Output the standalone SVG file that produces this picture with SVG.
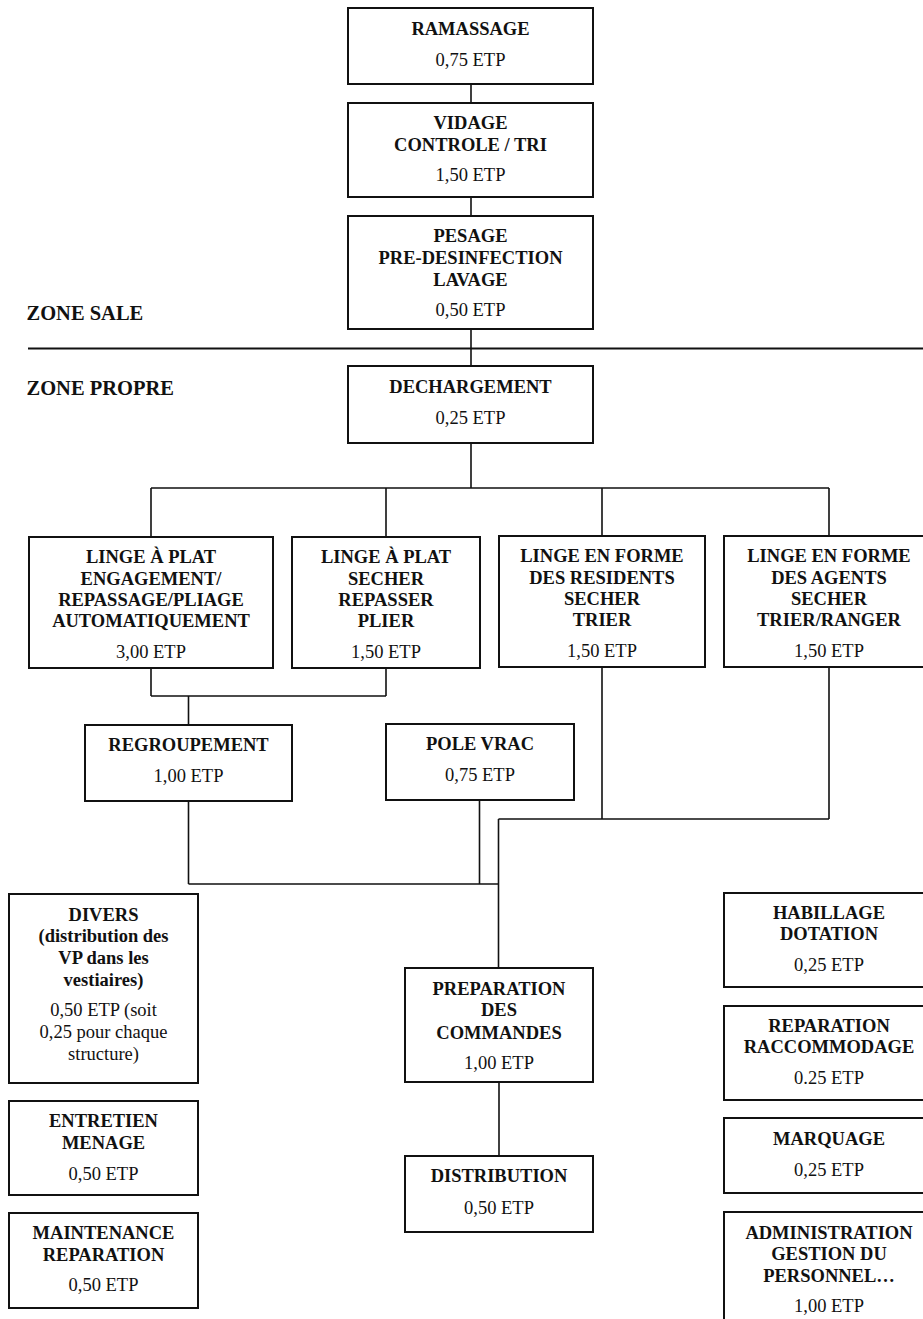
<svg xmlns="http://www.w3.org/2000/svg" width="923" height="1319" viewBox="0 0 923 1319">
<style>
.box{fill:#fff;stroke:#111;stroke-width:2}
.c{fill:none;stroke:#111;stroke-width:1.6}
text{font-family:"Liberation Serif","Times New Roman",serif;font-size:18.5px;fill:#111;text-anchor:middle}
.b{font-weight:bold}
.z{font-weight:bold;font-size:20.5px;text-anchor:start}
</style>
<rect width="923" height="1319" fill="#fff"/>
<g id="zones">
<text class="z" x="26.5" y="320">ZONE SALE</text>
<text class="z" x="26.5" y="395">ZONE PROPRE</text>
<line class="c" x1="28" y1="348.5" x2="923" y2="348.5" style="stroke-width:2"/>
</g>
<g id="connectors">
<path class="c" d="M471 84V103M471 197V216M471 329V366M471 443V488M151 488H829M151 488V537M386 488V537M602 488V536M829 488V536"/>
<path class="c" d="M151 668V696M386 668V696M151 696H386M188.5 696V725"/>
<path class="c" d="M602 667V819M829 667V819M498.5 819H829M498.5 819V968"/>
<path class="c" d="M188.5 801V884M479.5 800V884M188.5 884H498.5"/>
<path class="c" d="M499 1082V1156"/>
</g>
<g id="ramassage"><rect class="box" x="348" y="8" width="245" height="76"/>
<text class="b" x="470.5" y="34.5">RAMASSAGE</text><text x="470.5" y="66">0,75 ETP</text></g>
<g id="vidage"><rect class="box" x="348" y="103" width="245" height="94"/>
<text class="b" x="470.5" y="129">VIDAGE</text><text class="b" x="470.5" y="150.5">CONTROLE / TRI</text><text x="470.5" y="181">1,50 ETP</text></g>
<g id="pesage"><rect class="box" x="348" y="216" width="245" height="113"/>
<text class="b" x="470.5" y="242">PESAGE</text><text class="b" x="470.5" y="263.5">PRE-DESINFECTION</text><text class="b" x="470.5" y="285.5">LAVAGE</text><text x="470.5" y="316">0,50 ETP</text></g>
<g id="dechargement"><rect class="box" x="348" y="366" width="245" height="77"/>
<text class="b" x="470.5" y="393">DECHARGEMENT</text><text x="470.5" y="424">0,25 ETP</text></g>
<g id="linge1"><rect class="box" x="29" y="537" width="244" height="131"/>
<text class="b" x="151" y="563">LINGE À PLAT</text><text class="b" x="151" y="584.5">ENGAGEMENT/</text><text class="b" x="151" y="606">REPASSAGE/PLIAGE</text><text class="b" x="151" y="627">AUTOMATIQUEMENT</text><text x="151" y="658">3,00 ETP</text></g>
<g id="linge2"><rect class="box" x="292" y="537" width="188" height="131"/>
<text class="b" x="386" y="563">LINGE À PLAT</text><text class="b" x="386" y="584.5">SECHER</text><text class="b" x="386" y="606">REPASSER</text><text class="b" x="386" y="627">PLIER</text><text x="386" y="658">1,50 ETP</text></g>
<g id="linge3"><rect class="box" x="499" y="536" width="206" height="131"/>
<text class="b" x="602" y="562">LINGE EN FORME</text><text class="b" x="602" y="583.5">DES RESIDENTS</text><text class="b" x="602" y="605">SECHER</text><text class="b" x="602" y="626">TRIER</text><text x="602" y="657">1,50 ETP</text></g>
<g id="linge4"><rect class="box" x="724" y="536" width="212" height="131"/>
<text class="b" x="829" y="562">LINGE EN FORME</text><text class="b" x="829" y="583.5">DES AGENTS</text><text class="b" x="829" y="605">SECHER</text><text class="b" x="829" y="626">TRIER/RANGER</text><text x="829" y="657">1,50 ETP</text></g>
<g id="regroupement"><rect class="box" x="85" y="725" width="207" height="76"/>
<text class="b" x="188.5" y="751">REGROUPEMENT</text><text x="188.5" y="782">1,00 ETP</text></g>
<g id="polevrac"><rect class="box" x="386" y="724" width="188" height="76"/>
<text class="b" x="480" y="750">POLE VRAC</text><text x="480" y="781">0,75 ETP</text></g>
<g id="divers"><rect class="box" x="9" y="894" width="189" height="189"/>
<text class="b" x="103.5" y="920.5">DIVERS</text><text class="b" x="103.5" y="942">(distribution des</text><text class="b" x="103.5" y="964">VP dans les</text><text class="b" x="103.5" y="986">vestiaires)</text>
<text x="103.5" y="1016">0,50 ETP (soit</text><text x="103.5" y="1038">0,25 pour chaque</text><text x="103.5" y="1060">structure)</text></g>
<g id="entretien"><rect class="box" x="9" y="1101" width="189" height="94"/>
<text class="b" x="103.5" y="1127">ENTRETIEN</text><text class="b" x="103.5" y="1149">MENAGE</text><text x="103.5" y="1179.5">0,50 ETP</text></g>
<g id="maintenance"><rect class="box" x="9" y="1213" width="189" height="95"/>
<text class="b" x="103.5" y="1239">MAINTENANCE</text><text class="b" x="103.5" y="1260.5">REPARATION</text><text x="103.5" y="1291">0,50 ETP</text></g>
<g id="preparation"><rect class="box" x="405" y="968" width="188" height="114"/>
<text class="b" x="499" y="994.5">PREPARATION</text><text class="b" x="499" y="1016">DES</text><text class="b" x="499" y="1038.5">COMMANDES</text><text x="499" y="1069">1,00 ETP</text></g>
<g id="distribution"><rect class="box" x="405" y="1156" width="188" height="76"/>
<text class="b" x="499" y="1182">DISTRIBUTION</text><text x="499" y="1213.5">0,50 ETP</text></g>
<g id="habillage"><rect class="box" x="724" y="893" width="212" height="94"/>
<text class="b" x="829" y="918.5">HABILLAGE</text><text class="b" x="829" y="939.5">DOTATION</text><text x="829" y="970.5">0,25 ETP</text></g>
<g id="reparation"><rect class="box" x="724" y="1006" width="212" height="94"/>
<text class="b" x="829" y="1032">REPARATION</text><text class="b" x="829" y="1053">RACCOMMODAGE</text><text x="829" y="1084">0.25 ETP</text></g>
<g id="marquage"><rect class="box" x="724" y="1118" width="212" height="75"/>
<text class="b" x="829" y="1144.5">MARQUAGE</text><text x="829" y="1175.5">0,25 ETP</text></g>
<g id="administration"><rect class="box" x="724" y="1212" width="212" height="120"/>
<text class="b" x="829" y="1238.5">ADMINISTRATION</text><text class="b" x="829" y="1259.5">GESTION DU</text><text class="b" x="829" y="1282">PERSONNEL…</text><text x="829" y="1312">1,00 ETP</text></g>
</svg>
